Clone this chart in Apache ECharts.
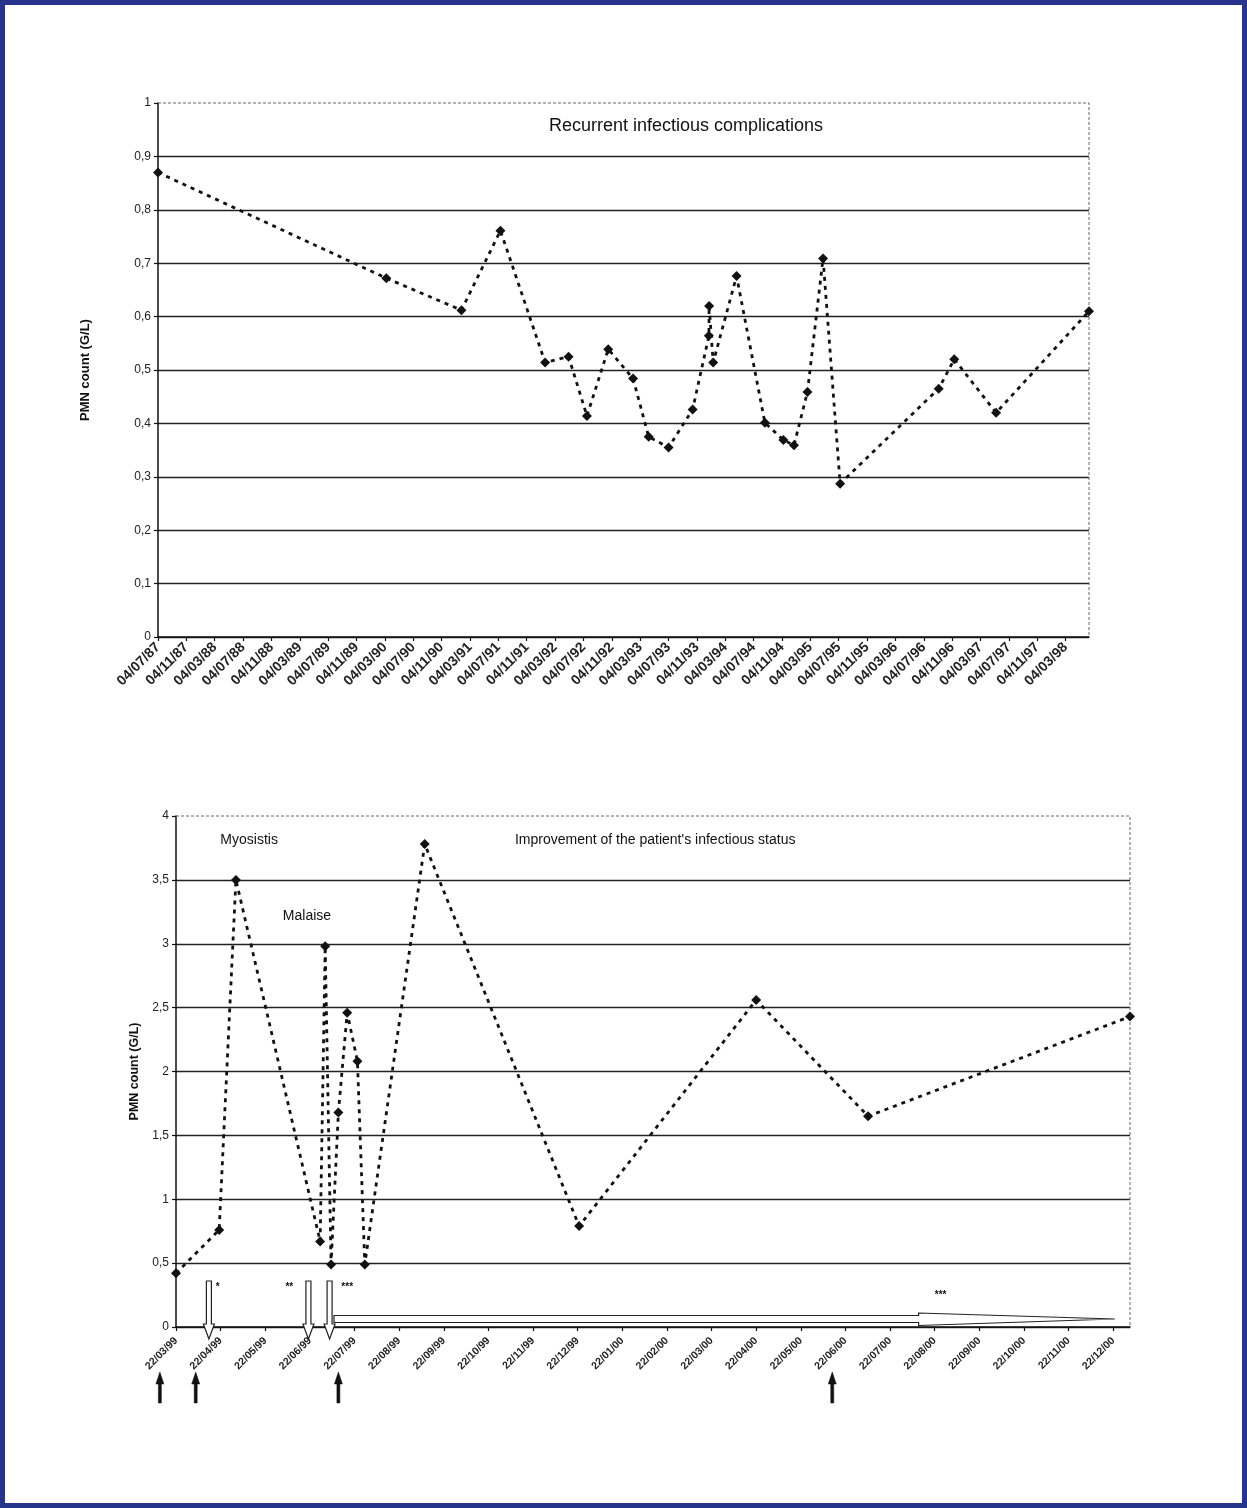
<!DOCTYPE html>
<html><head><meta charset="utf-8">
<script src="https://cdn.jsdelivr.net/npm/echarts@6/dist/echarts.min.js"></script>
<style>
html,body{margin:0;padding:0;background:#fff;}
#c{position:absolute;left:0;top:0;width:1247px;height:1508px;}
#frame{position:absolute;left:0;top:0;width:1247px;height:1508px;box-sizing:border-box;border:5px solid #27348b;pointer-events:none;}
</style>
</head><body><div id="c"></div><div id="frame"></div>
<script>
// ---------- DATA ----------
const topTitle = 'Recurrent infectious complications';
const yName = 'PMN count (G/L)';
const topTickLabels = ['04/07/87','04/11/87','04/03/88','04/07/88','04/11/88','04/03/89','04/07/89','04/11/89',
  '04/03/90','04/07/90','04/11/90','04/03/91','04/07/91','04/11/91','04/03/92','04/07/92','04/11/92',
  '04/03/93','04/07/93','04/11/93','04/03/94','04/07/94','04/11/94','04/03/95','04/07/95','04/11/95',
  '04/03/96','04/07/96','04/11/96','04/03/97','04/07/97','04/11/97','04/03/98'];
const topDates = ['04/07/87','10/03/90','28/01/91','13/07/91','22/01/92','01/05/92','19/07/92','19/10/92',
  '04/02/93','10/04/93','04/07/93','16/10/93','25/12/93','26/12/93','13/01/94','22/04/94','22/08/94',
  '10/11/94','25/12/94','22/02/95','28/04/95','10/07/95','07/09/96','13/11/96','10/05/97','13/06/98'];
const topValues = [0.87,0.672,0.612,0.761,0.514,0.525,0.414,0.539,0.484,0.375,0.355,0.426,0.564,0.62,
  0.514,0.676,0.401,0.369,0.359,0.459,0.709,0.287,0.465,0.52,0.42,0.61];

const bottomTickLabels = ['22/03/99','22/04/99','22/05/99','22/06/99','22/07/99','22/08/99','22/09/99',
  '22/10/99','22/11/99','22/12/99','22/01/00','22/02/00','22/03/00','22/04/00','22/05/00','22/06/00',
  '22/07/00','22/08/00','22/09/00','22/10/00','22/11/00','22/12/00'];
const bottomDates = ['22/03/99','21/04/99','02/05/99','29/06/99','02/07/99','06/07/99','11/07/99',
  '17/07/99','24/07/99','29/07/99','09/09/99','23/12/99','22/04/00','07/07/00','03/01/01'];
const bottomValues = [0.42,0.76,3.5,0.67,2.98,0.49,1.68,2.46,2.08,0.49,3.78,0.79,2.56,1.65,2.43];

const noteTexts = ['Myosistis','Malaise',"Improvement of the patient's infectious status"];
const noteDates = ['11/05/99','20/06/99','14/02/00'];
const noteValues = [3.81,3.22,3.81];
const downArrowDates = ['14/04/99','21/06/99','05/07/99'];
const starTexts = ['*','**','***','***'];
const starDates = ['20/04/99','08/06/99','17/07/99','26/08/00'];
const longArrowDates = ['08/07/99','11/08/00','23/12/00']; // start, head start, tip
const upArrowDates = ['11/03/99','05/04/99','11/07/99','13/06/00'];

// ---------- helpers ----------
function parseD(s){const p=s.split('/').map(Number);let y=p[2];y+= y<50?2000:1900;return {d:p[0],m:p[1],y:y};}
function monthsFrom(s, by, bm, bd){const o=parseD(s);return (o.y*12+o.m-1)-(by*12+bm-1)+(o.d-bd)/30.44;}
const topX = d => monthsFrom(d,1987,7,4);
const botX = d => monthsFrom(d,1999,3,22);
const commaFmt = v => (Math.abs(v-Math.round(v))<1e-9 ? String(Math.round(v)) : (+v.toFixed(1)).toString().replace('.',','));

const topData = topDates.map((d,i)=>[topX(d), topValues[i]]);
const botData = bottomDates.map((d,i)=>[botX(d), bottomValues[i]]);
const topMax = topData[topData.length-1][0];
const botMax = botData[botData.length-1][0];

const FONT = '"Liberation Sans", Arial, sans-serif';
const chart = echarts.init(document.getElementById('c'), null, {renderer:'canvas'});

const axisCommon = {
  axisLine:{show:true,onZero:false,lineStyle:{color:'#111',width:1.5}},
  axisTick:{show:true,inside:false,length:4,lineStyle:{color:'#111',width:1.2}}
};

chart.setOption({
  animation:false,
  backgroundColor:'#fff',
  textStyle:{fontFamily:FONT},
  grid:[
    {left:158, top:103, width:931, height:534, containLabel:false},
    {left:176, top:816, width:954, height:511, containLabel:false}
  ],
  xAxis:[
    Object.assign({gridIndex:0,type:'value',min:0,max:topMax,interval:4,
      axisLabel:{rotate:45,fontSize:14,fontWeight:'bold',color:'#222',margin:8,showMaxLabel:false,
        formatter:v=>{const k=Math.round(v/4);return Math.abs(v-4*k)<1e-6 && topTickLabels[k]?topTickLabels[k]:'';}},
      splitLine:{show:false}}, axisCommon),
    Object.assign({gridIndex:1,type:'value',min:0,max:botMax,interval:1,
      axisLabel:{rotate:45,fontSize:10.5,fontWeight:'bold',color:'#222',margin:12,showMaxLabel:false,
        formatter:v=>{const k=Math.round(v);return Math.abs(v-k)<1e-6 && bottomTickLabels[k]?bottomTickLabels[k]:'';}},
      splitLine:{show:false}}, axisCommon)
  ],
  yAxis:[
    Object.assign({gridIndex:0,type:'value',min:0,max:1,interval:0.1,
      name:yName,nameLocation:'middle',nameRotate:90,nameGap:66,
      nameTextStyle:{fontSize:13,fontWeight:'bold',color:'#111'},
      axisLabel:{fontSize:12,color:'#222',margin:7,formatter:commaFmt},
      splitLine:{show:true,showMaxLine:false,lineStyle:{color:'#222',width:1.3}}}, axisCommon),
    Object.assign({gridIndex:1,type:'value',min:0,max:4,interval:0.5,
      name:yName,nameLocation:'middle',nameRotate:90,nameGap:33,
      nameTextStyle:{fontSize:12.5,fontWeight:'bold',color:'#111'},
      axisLabel:{fontSize:12,color:'#222',margin:7,formatter:commaFmt},
      splitLine:{show:true,showMaxLine:false,lineStyle:{color:'#222',width:1.3}}}, axisCommon)
  ],
  series:[
    {type:'line',xAxisIndex:0,yAxisIndex:0,data:topData,clip:false,
      symbol:'diamond',symbolSize:10,itemStyle:{color:'#111'},
      lineStyle:{color:'#111',width:2.8,type:[4,5]}},
    {type:'line',xAxisIndex:1,yAxisIndex:1,data:botData,clip:false,
      symbol:'diamond',symbolSize:10,itemStyle:{color:'#111'},
      lineStyle:{color:'#111',width:2.8,type:[4,5]}}
  ]
});

// ---------- annotations positioned through the axes ----------
const P0 = (x,y)=>chart.convertToPixel({gridIndex:0},[x,y]);
const P1 = (x,y)=>chart.convertToPixel({gridIndex:1},[x,y]);
const g = [];
function dashedBorder(P, xmax, ymax){
  const a=P(0,ymax), b=P(xmax,ymax), c=P(xmax,0);
  g.push({type:'polyline',silent:true,z:1,shape:{points:[a,b,c]},
    style:{fill:null,stroke:'#666',lineWidth:1,lineDash:[3,2]}});
}
dashedBorder(P0, topMax, 1);
dashedBorder(P1, botMax, 4);

// title of top chart
g.push({type:'text',x:686,y:126,style:{text:topTitle,font:'18px '+FONT,fill:'#111',align:'center',verticalAlign:'middle'}});

// notes
noteTexts.forEach((t,i)=>{const p=P1(botX(noteDates[i]),noteValues[i]);
  g.push({type:'text',x:p[0],y:p[1],style:{text:t,font:'14px '+FONT,fill:'#111',align:'center',verticalAlign:'middle'}});});

const y0 = P1(0,0)[1];
// hollow down arrows
downArrowDates.forEach(d=>{const cx=P1(botX(d),0)[0]; const yt=P1(0,0.36)[1];
  g.push({type:'polygon',z:5,shape:{points:[[cx-2.5,yt],[cx+2.5,yt],[cx+2.5,y0-3],[cx+5.5,y0-3],[cx,y0+12],[cx-5.5,y0-3],[cx-2.5,y0-3]]},
    style:{fill:'#fff',stroke:'#222',lineWidth:1.2}});});
// long hollow arrow
(function(){const xs=P1(botX(longArrowDates[0]),0)[0], xh=P1(botX(longArrowDates[1]),0)[0], xt=P1(botX(longArrowDates[2]),0)[0];
  g.push({type:'polygon',z:5,shape:{points:[[xs,y0-11.5],[xh,y0-11.5],[xh,y0-14],[xt,y0-8],[xh,y0-1.5],[xh,y0-4.5],[xs,y0-4.5]]},
    style:{fill:'#fff',stroke:'#222',lineWidth:1.2}});})();
// stars
starTexts.forEach((t,i)=>{const x=P1(botX(starDates[i]),0)[0]; const yy = i<3 ? y0-40 : y0-32;
  g.push({type:'text',x:x,y:yy,z:6,style:{text:t,font:'bold 10px '+FONT,fill:'#111',align:'center',verticalAlign:'middle'}});});
// black up arrows
upArrowDates.forEach(d=>{const cx=P1(botX(d),0)[0];
  g.push({type:'polygon',z:5,shape:{points:[[cx,y0+45],[cx+4,y0+57],[cx+1.5,y0+57],[cx+1.5,y0+76],[cx-1.5,y0+76],[cx-1.5,y0+57],[cx-4,y0+57]]},
    style:{fill:'#111',stroke:'#111',lineWidth:0.5}});});

chart.setOption({graphic:g});
</script>
</body></html>
